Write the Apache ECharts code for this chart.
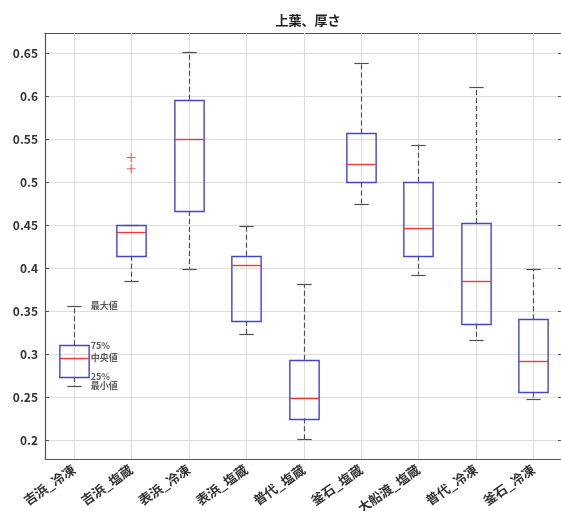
<!DOCTYPE html>
<html>
<head>
<meta charset="utf-8">
<script src="https://cdn.jsdelivr.net/npm/echarts@6/dist/echarts.min.js"></script>
<style>
  html, body { margin: 0; padding: 0; background: #fff; }
  #chart { width: 561px; height: 511px; }
</style>
</head>
<body>
<div id="chart"></div>
<script>
// 上葉、厚さ  --  box statistics per sample
var categories = ['吉浜_冷凍', '吉浜_塩蔵', '表浜_冷凍', '表浜_塩蔵', '普代_塩蔵',
                  '釜石_塩蔵', '大船渡_塩蔵', '普代_冷凍', '釜石_冷凍'];
var mins    = [0.264, 0.385, 0.400, 0.324, 0.202, 0.475, 0.393, 0.317, 0.248];
var q1s     = [0.274, 0.415, 0.467, 0.339, 0.226, 0.500, 0.415, 0.336, 0.256];
var medians = [0.296, 0.443, 0.550, 0.404, 0.249, 0.521, 0.447, 0.386, 0.293];
var q3s     = [0.311, 0.451, 0.596, 0.415, 0.294, 0.557, 0.501, 0.453, 0.341];
var maxs    = [0.357, 0.451, 0.652, 0.450, 0.382, 0.639, 0.544, 0.611, 0.400];
var outliers = [[1, 0.529], [1, 0.516]];
// legend-like notes on the first box
var noteLabels = ['最大値', '75%', '中央値', '25%', '最小値'];
var noteValues = [0.357, 0.311, 0.296, 0.274, 0.264];

var boxData = categories.map(function (c, i) {
    return [i, mins[i], q1s[i], medians[i], q3s[i], maxs[i]];
});
var noteData = noteLabels.map(function (t, i) {
    return { value: [0, noteValues[i]], name: t };
});

var BLUE = '#4545c8', RED = '#f03a3a', DARK = '#505050';

function px(v) { return Math.round(v) + 0.5; }

function renderBox(params, api) {
    var x = api.value(0);
    var pMin = api.coord([x, api.value(1)]);
    var pQ1 = api.coord([x, api.value(2)]);
    var pMed = api.coord([x, api.value(3)]);
    var pQ3 = api.coord([x, api.value(4)]);
    var pMax = api.coord([x, api.value(5)]);
    var band = api.size([1, 0])[0];
    var bw = band * 0.51, cw = band * 0.25;
    var cx = px(pMin[0]);
    var cs = params.coordSys;
    var dash = { stroke: DARK, lineWidth: 1.2, lineDash: [5, 3] };
    var solid = { stroke: DARK, lineWidth: 1.2 };
    return {
        type: 'group',
        children: [
            // vertical grid line through the category tick
            { type: 'line', shape: { x1: cx, y1: cs.y, x2: cx, y2: cs.y + cs.height },
              style: { stroke: '#dcdcdc', lineWidth: 1 }, z2: -10 },
            { type: 'line', shape: { x1: cx, y1: pQ3[1], x2: cx, y2: pMax[1] }, style: dash },
            { type: 'line', shape: { x1: cx, y1: pQ1[1], x2: cx, y2: pMin[1] }, style: dash },
            { type: 'line', shape: { x1: cx - cw / 2, y1: px(pMax[1]), x2: cx + cw / 2, y2: px(pMax[1]) }, style: solid },
            { type: 'line', shape: { x1: cx - cw / 2, y1: px(pMin[1]), x2: cx + cw / 2, y2: px(pMin[1]) }, style: solid },
            { type: 'rect', shape: { x: cx - bw / 2, y: px(pQ3[1]), width: bw, height: Math.round(pQ1[1] - pQ3[1]) },
              style: { fill: 'rgba(0,0,0,0)', stroke: BLUE, lineWidth: 1.4 } },
            { type: 'line', shape: { x1: cx - bw / 2, y1: px(pMed[1]), x2: cx + bw / 2, y2: px(pMed[1]) },
              style: { stroke: RED, lineWidth: 1.4 } }
        ]
    };
}

var chart = echarts.init(document.getElementById('chart'));
chart.setOption({
    animation: false,
    backgroundColor: '#fff',
    textStyle: { fontFamily: 'Noto Sans CJK JP' },
    title: {
        text: '上葉、厚さ',
        left: 303, textAlign: 'center', top: 9,
        textStyle: { fontSize: 13, fontWeight: 'bold', color: '#222', fontFamily: 'Noto Sans CJK JP' }
    },
    grid: { left: 45, right: -1, top: 33, bottom: 52, containLabel: false, outerBoundsMode: 'none' },
    xAxis: [{
        type: 'category',
        data: categories,
        boundaryGap: true,
        axisLine: { lineStyle: { color: '#555', width: 1.2 } },
        axisTick: { inside: true, alignWithLabel: true, length: 4, lineStyle: { color: '#555' } },
        axisLabel: { rotate: 35, margin: 9, fontSize: 13, fontWeight: 'bold', color: '#333', interval: 0 },
        splitLine: { show: false }
    }, {
        type: 'category',
        data: categories,
        position: 'top',
        boundaryGap: true,
        axisLine: { lineStyle: { color: '#555', width: 1.2 } },
        axisTick: { inside: true, alignWithLabel: true, length: 4, lineStyle: { color: '#555' } },
        axisLabel: { show: false },
        splitLine: { show: false }
    }],
    yAxis: [{
        type: 'value',
        min: 0.1787, max: 0.6737,
        splitNumber: 10,
        axisLine: { show: true, lineStyle: { color: '#555', width: 1.2 } },
        axisTick: { show: true, inside: true, length: 4, lineStyle: { color: '#555' } },
        axisLabel: {
            showMinLabel: false, showMaxLabel: false, margin: 7,
            fontSize: 12, fontWeight: 'bold', color: '#333',
            formatter: function (v) { return String(+v.toFixed(2)); }
        },
        splitLine: { show: true, lineStyle: { color: '#dcdcdc' } }
    }, {
        type: 'value',
        position: 'right',
        min: 0.1787, max: 0.6737,
        splitNumber: 10,
        axisLine: { show: true, lineStyle: { color: '#555', width: 1.2 } },
        axisTick: { show: true, inside: true, length: 4, lineStyle: { color: '#555' } },
        axisLabel: { show: false },
        splitLine: { show: false }
    }],
    series: [{
        type: 'custom',
        renderItem: renderBox,
        data: boxData,
        encode: { x: 0, y: [1, 2, 3, 4, 5] },
        z: 3
    }, {
        type: 'scatter',
        data: outliers,
        symbol: 'path://M4.4,0h1.2v10h-1.2zM0,4.4h10v1.2h-10z',
        symbolSize: 9,
        itemStyle: { color: RED },
        z: 4
    }, {
        type: 'scatter',
        data: noteData,
        symbolSize: 0,
        silent: true,
        label: {
            show: true, position: 'right', distance: 0, offset: [17, 0],
            formatter: '{b}', fontSize: 9, fontWeight: 'bold', color: '#333'
        },
        z: 5
    }]
});
</script>
</body>
</html>
